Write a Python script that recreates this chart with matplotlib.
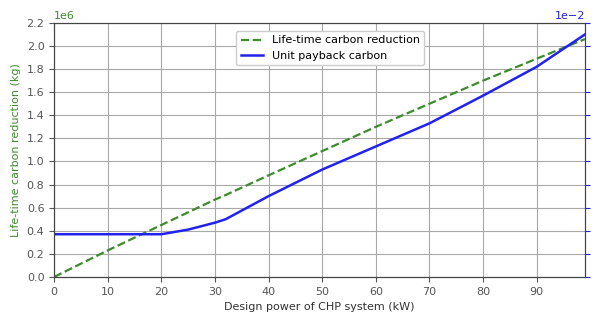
import matplotlib.pyplot as plt
import numpy as np

# design power of CHP system (kW)
power = [0, 10, 20, 25, 30, 32, 40, 50, 60, 70, 80, 90, 99]
# life-time carbon reduction (x1e6 kg)
lifeReduction = [0.0, 0.23, 0.45, 0.56, 0.67, 0.71, 0.88, 1.09, 1.30, 1.50, 1.70, 1.89, 2.06]
# unit payback carbon (x1e-2)
unitPayback = [0.37, 0.37, 0.37, 0.41, 0.47, 0.50, 0.70, 0.93, 1.13, 1.33, 1.57, 1.82, 2.10]

green = '#3c8c2c'
blue = '#2222ee'

fig, ax = plt.subplots(figsize=(5.95, 3.14), dpi=100)
fig.subplots_adjust(left=0.091, right=0.983, top=0.927, bottom=0.118)

l1, = ax.plot(power, np.array(lifeReduction) * 1e6, '--', color=green, lw=1.6,
              label='Life-time carbon reduction')
ax.set_xlim(0, 99)
ax.set_ylim(0, 2.2e6)
ax.set_yticks(np.arange(0, 2.21e6, 0.2e6))
ax.set_xticks(np.arange(0, 91, 10))
ax.grid(True, color='#a8a8a8', lw=0.8)
ax.set_xlabel('Design power of CHP system (kW)', fontsize=8, color='#333333')
ax.set_ylabel('Life-time carbon reduction (kg)', fontsize=8, color=green)
ax.tick_params(labelsize=8, colors='#555555')
ax.yaxis.get_offset_text().set_color(green)
ax.yaxis.get_offset_text().set_fontsize(8)
for s in ax.spines.values():
    s.set_color('#444444')

ax2 = ax.twinx()
l2, = ax2.plot(power, np.array(unitPayback) * 1e-2, '-', color=blue, lw=1.8,
               label='Unit payback carbon')
ax2.set_ylim(0, 2.2e-2)
ax2.set_yticks(np.arange(0, 2.21e-2, 0.2e-2))
ax2.ticklabel_format(axis='y', style='sci', scilimits=(0, 0))
ax2.tick_params(labelsize=8, colors=blue)
ax2.yaxis.get_offset_text().set_color(blue)
ax2.yaxis.get_offset_text().set_fontsize(8)
for s in ax2.spines.values():
    s.set_color('#444444')

ax.legend(handles=[l1, l2], loc='upper center', fontsize=8, framealpha=1.0,
          bbox_to_anchor=(0.52, 0.99))

fig.savefig('out.png', dpi=100)
